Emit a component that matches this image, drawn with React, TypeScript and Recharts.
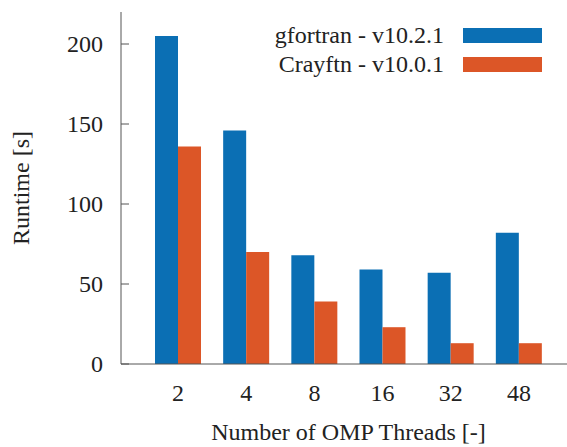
import React from 'react';
import { BarChart, Bar, XAxis, YAxis, Legend } from 'recharts';

const threads = ['2', '4', '8', '16', '32', '48'];
const gfortran = [205, 146, 68, 59, 57, 82];
const crayftn = [136, 70, 39, 23, 13, 13];
const yTicks = [0, 50, 100, 150, 200];
const seriesNames = ['gfortran - v10.2.1', 'Crayftn - v10.0.1'];

const data = threads.map((t, i) => ({ t, g: gfortran[i], c: crayftn[i] }));

const FONT = '"Liberation Serif", serif';
const FS = 24;
const TEXT = '#222';
const AXIS = '#555';
const BLUE = '#0b6fb4';
const ORANGE = '#dc5627';
const COLORS = [BLUE, ORANGE];
const Y_MARGIN = 18;

const YTick = (props: any) => {
  const { x, y, payload } = props;
  const ax = x + Y_MARGIN;
  return (
    <g>
      <line x1={ax} x2={ax + 8} y1={y} y2={y} stroke={AXIS} strokeWidth={1} />
      <text x={x} y={y} dy="0.33em" textAnchor="end" fontFamily={FONT} fontSize={FS} fill={TEXT}>
        {payload.value}
      </text>
    </g>
  );
};

const LegendContent = () => (
  <div style={{ display: 'flex', flexDirection: 'column', alignItems: 'flex-end' }}>
    {seriesNames.map((name, i) => (
      <div key={name} style={{ display: 'flex', alignItems: 'center', height: 29 }}>
        <span style={{ fontFamily: FONT, fontSize: FS, color: TEXT, marginRight: 19, lineHeight: '29px' }}>{name}</span>
        <div style={{ width: 79, height: 15, background: COLORS[i] }} />
      </div>
    ))}
  </div>
);

export default function App() {
  return (
    <div style={{ position: 'absolute', left: 0, top: 0, width: 567, height: 447, overflow: 'hidden', background: '#fff' }}>
      <BarChart
        width={600}
        height={447}
        data={data}
        margin={{ top: 12, right: 24, left: 0, bottom: 0 }}
        barGap={0}
        barSize={23}
      >
        <XAxis
          dataKey="t"
          xAxisId="top"
          orientation="top"
          mirror
          height={0}
          tick={false}
          tickSize={8}
          stroke={AXIS}
          padding={{ left: 23, right: 23 }}
        />
        <XAxis
          dataKey="t"
          height={83}
          tickLine={false}
          tickSize={0}
          tickMargin={20}
          stroke={AXIS}
          padding={{ left: 23, right: 23 }}
          tick={{ fontFamily: FONT, fontSize: FS, fill: TEXT }}
          label={{
            content: (p: any) => {
              const vb = p.viewBox;
              return (
                <text x={vb.x + vb.width / 2} y={vb.y + 76} textAnchor="middle" fontFamily={FONT} fontSize={FS} fill={TEXT}>
                  Number of OMP Threads [-]
                </text>
              );
            },
          }}
        />
        <YAxis
          width={121}
          domain={[0, 220]}
          ticks={yTicks}
          tickLine={false}
          tickSize={0}
          tickMargin={Y_MARGIN}
          stroke={AXIS}
          tick={<YTick />}
          label={{
            content: (p: any) => {
              const vb = p.viewBox;
              const cx = 29;
              const cy = vb.y + vb.height / 2;
              return (
                <text x={cx} y={cy} transform={`rotate(-90 ${cx} ${cy})`} textAnchor="middle" fontFamily={FONT} fontSize={FS} fill={TEXT}>
                  Runtime [s]
                </text>
              );
            },
          }}
        />
        <Legend
          layout="vertical"
          verticalAlign="middle"
          align="center"
          wrapperStyle={{ top: 21, left: 200, width: 342 }}
          content={<LegendContent />}
        />
        <Bar dataKey="g" name={seriesNames[0]} fill={BLUE} isAnimationActive={false} />
        <Bar dataKey="c" name={seriesNames[1]} fill={ORANGE} isAnimationActive={false} />
      </BarChart>
    </div>
  );
}
